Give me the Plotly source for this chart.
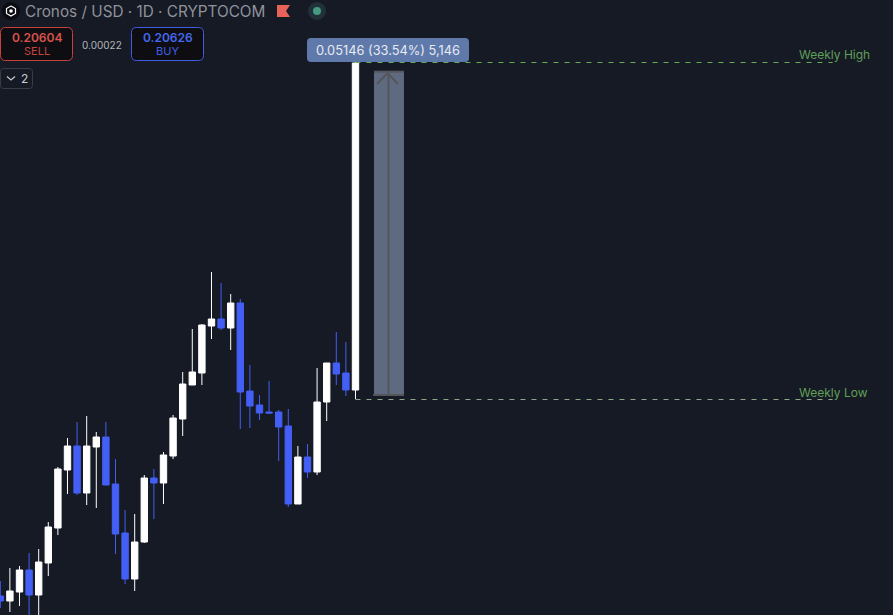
import plotly.graph_objects as go

# Daily candles
opens = [0.1249, 0.12415, 0.1255, 0.1288, 0.12505, 0.12985, 0.1351, 0.1438, 0.1474, 0.14035,
         0.14725, 0.14875, 0.1417, 0.13435, 0.12745, 0.1330, 0.1426, 0.14185, 0.1459, 0.15145,
         0.15655, 0.15835, 0.1654, 0.16645, 0.1651, 0.16885, 0.15565, 0.15355, 0.1525, 0.1525,
         0.1504, 0.1387, 0.14575, 0.1435, 0.1540, 0.15985, 0.15835, 0.1558]
highs = [0.12715, 0.1291, 0.1294, 0.13135, 0.13195, 0.1360, 0.14425, 0.1486, 0.1510, 0.1519,
         0.1495, 0.1510, 0.14545, 0.1378, 0.1372, 0.14305, 0.14395, 0.1465, 0.15205, 0.1585,
         0.16495, 0.1657, 0.1735, 0.17185, 0.1702, 0.16945, 0.15955, 0.15505, 0.15715, 0.1528,
         0.15295, 0.1474, 0.1477, 0.1591, 0.15985, 0.1645, 0.1630, 0.2050]
lows = [0.1231, 0.1225, 0.1234, 0.12175, 0.12175, 0.1279, 0.13405, 0.1402, 0.14005, 0.13855,
        0.1381, 0.14155, 0.1312, 0.1267, 0.12565, 0.13285, 0.13645, 0.1387, 0.14545, 0.1489,
        0.15655, 0.15655, 0.16345, 0.1648, 0.1618, 0.14995, 0.1501, 0.1513, 0.1522, 0.14515,
        0.13825, 0.1387, 0.1426, 0.14305, 0.15115, 0.15655, 0.1549, 0.15445]
closes = [0.12415, 0.12565, 0.1288, 0.12505, 0.1300, 0.13525, 0.14395, 0.1474, 0.14035, 0.1474,
          0.14875, 0.14155, 0.1342, 0.12745, 0.1330, 0.1426, 0.14185, 0.14605, 0.1516, 0.1567,
          0.1585, 0.16555, 0.16645, 0.1651, 0.16885, 0.1555, 0.1534, 0.15235, 0.15235, 0.15025,
          0.1387, 0.14575, 0.1435, 0.1540, 0.15985, 0.1582, 0.1558, 0.20485]
days = list(range(len(opens)))

weekly_high = 0.204925
weekly_low = 0.154375
level_end = 86.7
box_left, box_right = 38.93, 42.05
box_top, box_bottom = 0.20355, 0.15505

BG = "#161a25"
WHITE = "#ffffff"
BLUE = "#435ff5"
GREEN = "#5f9f58"
FONT = "Inter"
W, H = 893, 615


def px(x):
    return x / W


def py(y):
    return 1 - y / H


def round_box(x0, y0, x1, y1, r, fill, line=None):
    # rounded rectangle for the toolbar pieces, given in screen pixels
    a, b, c, d = px(x0), py(y0), px(x1), py(y1)
    rx, ry = r / W, r / H
    path = (f"M{a + rx},{b} L{c - rx},{b} Q{c},{b} {c},{b - ry} L{c},{d + ry} Q{c},{d} {c - rx},{d} "
            f"L{a + rx},{d} Q{a},{d} {a},{d + ry} L{a},{b - ry} Q{a},{b} {a + rx},{b} Z")
    return dict(type="path", xref="paper", yref="paper", path=path, fillcolor=fill,
                line=dict(color=line or fill, width=1 if line else 0), layer="above")


def poly(points, color, width=0, fill=None):
    d = "M" + " L".join(f"{px(x)},{py(y)}" for x, y in points)
    if fill:
        d += " Z"
    return dict(type="path", xref="paper", yref="paper", path=d, fillcolor=fill,
                line=dict(color=color, width=width), layer="above")


def circle(cx, cy, r, fill):
    return dict(type="circle", xref="paper", yref="paper", x0=px(cx - r), x1=px(cx + r),
                y0=py(cy + r), y1=py(cy - r), fillcolor=fill, line=dict(width=0), layer="above")


def label(text, x, y, size, color, anchor="center", weight=None):
    return dict(text=text, x=px(x), y=py(y), xref="paper", yref="paper", showarrow=False,
                xanchor=anchor, yanchor="middle",
                font=dict(family=FONT, size=size, color=color, weight=weight))


fig = go.Figure()

fig.add_trace(go.Candlestick(
    x=days, open=opens, high=highs, low=lows, close=closes,
    increasing=dict(line=dict(color=WHITE, width=1), fillcolor=WHITE),
    decreasing=dict(line=dict(color=BLUE, width=1), fillcolor=BLUE),
    whiskerwidth=0, showlegend=False,
))

fig.add_trace(go.Scatter(x=[37, level_end], y=[weekly_high, weekly_high], mode="lines",
                         line=dict(color="#62ad55", width=1, dash="5px,6px"), showlegend=False))
fig.add_trace(go.Scatter(x=[37, level_end], y=[weekly_low, weekly_low], mode="lines",
                         line=dict(color="#8fa88c", width=1, dash="5px,6px"), showlegend=False))

box_mid = (box_left + box_right) / 2 - 0.05
shapes = [
    # measure tool
    dict(type="rect", x0=box_left, x1=box_right, y0=box_bottom, y1=box_top, xref="x", yref="y",
         fillcolor="#5e6a7f", line=dict(width=0), layer="above"),
    dict(type="line", x0=box_left, x1=box_right, y0=box_top, y1=box_top, xref="x", yref="y",
         line=dict(color="#55565c", width=2), layer="above"),
    dict(type="line", x0=box_left - 0.1, x1=box_right, y0=box_bottom, y1=box_bottom, xref="x", yref="y",
         line=dict(color="#55565c", width=2), layer="above"),
    dict(type="line", x0=box_mid, x1=box_mid, y0=box_bottom, y1=box_top, xref="x", yref="y",
         line=dict(color="#55565c", width=2), layer="above"),
    poly([(377, 84), (387.5, 73), (398, 84)], "#55565c", 2),
    round_box(307, 38, 469, 62, 4, "#5f79aa"),
    # toolbar
    circle(11, 11, 9, "#0a0c12"),
    poly([(11, 6), (15.5, 8.5), (15.5, 13.5), (11, 16), (6.5, 13.5), (6.5, 8.5), (11, 6)], "#ffffff", 1.2),
    circle(11, 11, 1.8, "#ffffff"),
    poly([(277, 5), (290, 5), (286, 11), (290, 17), (277, 17)], "#e9635a", 0, "#e9635a"),
    circle(317, 11, 9, "#20313a"),
    circle(317, 11, 4, "#459a80"),
    round_box(0.5, 27.5, 72.5, 60.5, 5, "#0e0e12", "#c8433f"),
    round_box(131.5, 27.5, 203.5, 60.5, 5, "#0e0e12", "#3f5de0"),
    round_box(0.5, 68.5, 32.5, 88.5, 3, BG, "#3a3c42"),
    poly([(7, 76.5), (11, 80), (15, 76.5)], "#c9cad0", 1.2),
]

annotations = [
    label("Cronos / USD · 1D · CRYPTOCOM", 23, 11.5, 15.3, "#8f929b", "left"),
    label("0.20604", 36.5, 37, 12, "#d9524c", weight=600),
    label("SELL", 36.5, 51, 11, "#c8433f"),
    label("0.00022", 102, 44.5, 10, "#b4b5ba"),
    label("0.20626", 167.5, 37, 12, "#4568ee", weight=600),
    label("BUY", 167.5, 51, 11, "#3f5de0"),
    label("2", 24, 78.5, 12, "#c9cad0"),
    label("0.05146 (33.54%) 5,146", 388, 50, 12.8, "#e6eaf2"),
    label("Weekly High", 834, 54.5, 12, GREEN),
    label("Weekly Low", 833.5, 392.5, 12, GREEN),
]

fig.update_layout(
    width=W, height=H,
    margin=dict(l=0, r=0, t=0, b=0),
    paper_bgcolor=BG, plot_bgcolor=BG,
    xaxis=dict(range=[-0.03, 92.99], visible=False, rangeslider=dict(visible=False)),
    yaxis=dict(range=[0.12205, 0.2143], visible=False),
    shapes=shapes, annotations=annotations,
    boxgap=0.05,
    hovermode=False,
)

# square candle corners, no page margin
page_css = ("var s=document.createElement('style');"
            "s.textContent='.boxlayer path{stroke-linejoin:miter !important}';"
            "document.head.appendChild(s);"
            "document.body.style.margin='0';document.body.style.background='#161a25';")
fig.write_html("out.html", config=dict(displayModeBar=False), post_script=page_css)
